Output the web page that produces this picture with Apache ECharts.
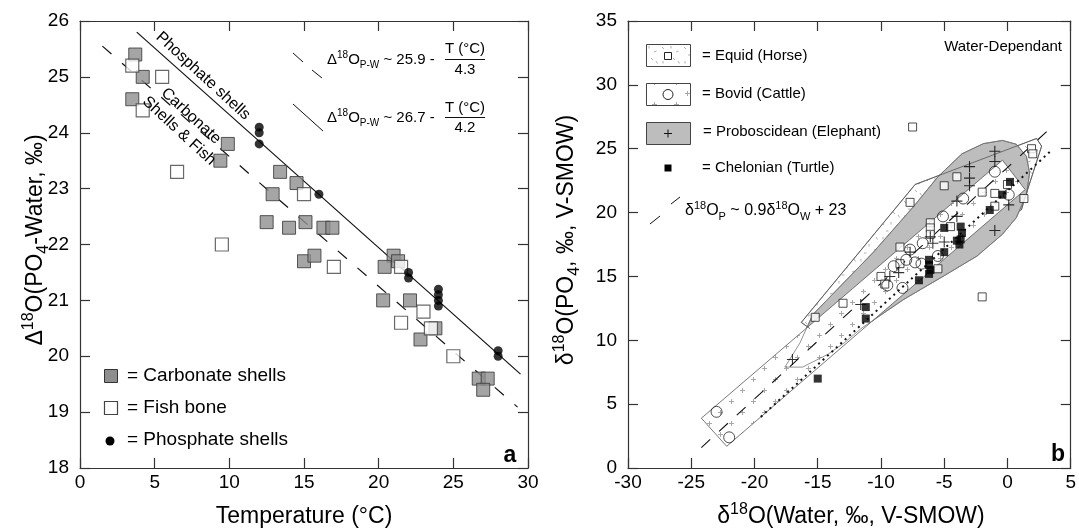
<!DOCTYPE html>
<html><head><meta charset="utf-8">
<script src="https://cdn.jsdelivr.net/npm/echarts@6/dist/echarts.min.js"></script>
<style>html,body{margin:0;padding:0;background:#fff}#c{width:1079px;height:529px}</style>
</head><body><div id="c"></div>
<script>
// ===== Panel a : Temperature (°C) vs Δ18O(PO4-Water) =====
const carbonateShells = [[3.7,25.4],[4.2,25.0],[3.5,24.6],[9.9,23.8],[9.4,23.5],[13.4,23.3],[14.5,23.1],[12.9,22.9],[12.5,22.4],[14.0,22.3],[15.1,22.4],[16.3,22.3],[16.9,22.3],[15.0,21.7],[15.7,21.8],[21.0,21.8],[20.4,21.6],[21.3,21.7],[20.3,21.0],[22.1,21.0],[22.8,20.3],[23.8,20.5],[26.7,19.6],[27.3,19.6],[27.0,19.4]];
const fishBone = [[3.5,25.2],[5.5,25.0],[4.2,24.4],[6.5,23.3],[15.0,22.9],[9.5,22.0],[17.0,21.6],[21.5,21.6],[23.0,20.8],[21.5,20.6],[23.5,20.5],[25.0,20.0]];
const phosphateShells = [[12,24.1],[12,24.0],[12,23.8],[16,22.9],[22,21.5],[22,21.4],[24,21.2],[24,21.1],[24,21.0],[24,20.9],[28,20.1],[28,20.0]];
const phosphateShellLine = [[3.8,25.8],[29.5,19.68]];
const carbonateFishLine = [[1.5,25.55],[29.3,19.09]];

// ===== Panel b : δ18O(Water) vs δ18O(PO4) =====
const equid = [[-7.5,26.7],[-7.7,20.8],[-5.0,22.1],[-4.0,22.8],[-2.0,21.6],[-1.0,21.5],[-1.0,20.5],[0.0,22.2],[1.9,25.0],[2.0,24.6],[1.3,21.1],[-2.0,13.4],[-6.1,19.2],[-6.1,18.8],[-6.1,18.3],[-8.5,17.3],[-8.5,16.0],[-10.0,15.0],[-9.7,14.4],[-13.0,12.9],[-15.2,11.8],[-4.5,18.9],[-5.5,15.6]];
const bovid = [[-1.0,23.2],[-3.5,21.1],[-5.1,19.7],[-6.7,17.6],[-7.7,17.1],[-8.0,16.3],[-9.0,15.8],[-7.3,16.1],[-6.8,16.0],[-9.5,14.3],[-8.3,14.1],[0.1,21.4],[-5.5,16.6],[-23.0,4.4],[-22.0,2.4]];
const proboscidean = [[-1.0,24.8],[-1.0,24.0],[-3.0,23.6],[-3.0,22.7],[-3.0,22.1],[-4.0,20.9],[-4.0,19.7],[-1.0,18.6],[0.1,20.6],[-5.9,17.6],[-5.0,17.7],[-7.7,16.9],[-8.6,15.3],[-9.3,15.0],[-11.6,12.8],[-6.1,18.1],[-17.0,8.5]];
const chelonian = [[0.2,22.4],[-0.4,21.4],[-1.4,20.2],[-5.0,18.8],[-3.7,18.9],[-3.6,18.4],[-3.7,17.9],[-3.8,17.5],[-4.0,17.8],[-5.0,16.9],[-6.2,16.3],[-6.2,15.9],[-6.1,15.5],[-6.2,15.2],[-7.0,14.7],[-11.2,12.6],[-11.2,11.7],[-15.0,7.0]];
const equidEnvelope = [[-15.6,10.9],[-16.3,11.4],[-7.3,22.2],[2.3,25.8],[2.7,25.2],[1.3,20.9],[1.1,20.2]];
const bovidEnvelope = [[-24.2,3.9],[-0.4,24.1],[1.4,21.8],[-22.2,1.7]];
const proboscideanEnvelope = [[-17.6,7.9],[-16.4,9.8],[-15.4,12.0],[-10.6,16.9],[-7.4,20.5],[-5.5,22.8],[-3.6,24.6],[-1.9,25.4],[-0.4,25.65],[0.7,25.35],[1.5,24.4],[1.75,23.1],[1.5,21.4],[0.7,19.6],[-0.4,18.3],[-2.4,16.6],[-5.1,15.0],[-8.2,13.2],[-11.6,10.9],[-12.9,9.8],[-14.2,8.9],[-16.2,7.9]];
const waterLine = [[-24.2,1.6],[3.5,26.7]];
const dottedLine = [[-19.5,4.0],[3.4,24.8]];

const FONT = "'Liberation Sans', Arial, Helvetica, sans-serif";

function patternCanvas(kind){
  const c = document.createElement('canvas'); c.width = 22; c.height = 22;
  const g = c.getContext('2d');
  g.fillStyle = '#fff'; g.fillRect(0,0,22,22);
  g.strokeStyle = kind === 'plus' ? '#a8a8a8' : '#b0b0b0'; g.lineWidth = 1;
  if (kind === 'plus') {
    [[5.5,5.5],[16.5,16.5]].forEach(function(p){
      g.beginPath(); g.moveTo(p[0]-2.5,p[1]); g.lineTo(p[0]+2.5,p[1]);
      g.moveTo(p[0],p[1]-2.5); g.lineTo(p[0],p[1]+2.5); g.stroke();
    });
  } else {
    [[2,3,4,5],[11,2,11,4.5],[16,8,18.5,7],[6,11,8.5,11],[13,14,15,16],[3,17,3,19.5],[18,17,19.5,19.5]].forEach(function(s){
      g.beginPath(); g.moveTo(s[0],s[1]); g.lineTo(s[2],s[3]); g.stroke();
    });
  }
  return c;
}
const plusPat = {image: patternCanvas('plus'), repeat: 'repeat'};
const equidPat = {image: patternCanvas('dash'), repeat: 'repeat'};

function polySeries(points, style, z, closed){
  return {
    type: 'custom', xAxisIndex: 2, yAxisIndex: 2, z: z, silent: true,
    data: [[points[0][0], points[0][1]]],
    renderItem: function(params, api){
      const pts = points.map(function(p){ return api.coord(p); });
      return {type: closed ? 'polygon' : 'polyline', shape: {points: pts}, style: style};
    }
  };
}

function richFor(S){
  return {
    t: {fontSize: S, fontFamily: FONT, fill: '#000', lineHeight: Math.round(S*1.35)},
    sup: {fontSize: Math.round(S*0.68), fontFamily: FONT, fill: '#000', verticalAlign: 'top'},
    sub: {fontSize: Math.round(S*0.68), fontFamily: FONT, fill: '#000', verticalAlign: 'bottom', lineHeight: Math.round(S*0.95)}
  };
}
function txt(x, y, text, size, opt){
  opt = opt || {};
  const style = {text: text, font: (opt.bold ? 'bold ' : '') + size + 'px ' + FONT, fill: '#000',
    textAlign: opt.align || 'left', textVerticalAlign: 'middle'};
  if (opt.rich) style.rich = richFor(size);
  return {type: 'text', x: x, y: y, rotation: opt.rotation || 0, silent: true, z: 100, style: style};
}
function seg(x1,y1,x2,y2,w,dash){
  return {type:'line', silent:true, z:102, shape:{x1:x1,y1:y1,x2:x2,y2:y2},
    style:{stroke:'#111', lineWidth:w||1, lineDash: dash || null}};
}

const axisCol = '#333';
function xAx(grid, min, max, pos){
  return {gridIndex: grid, type: 'value', min: min, max: max, interval: 5, position: pos,
    axisLine: {show: true, onZero: false, lineStyle: {color: axisCol, width: 1.2}},
    axisTick: {show: true, inside: true, length: 10, lineStyle: {color: axisCol, width: 1.2}},
    axisLabel: {show: pos === 'bottom', color: '#000', fontSize: 19, fontFamily: FONT, margin: 5},
    splitLine: {show: false}};
}
function yAx(grid, min, max, interval, pos){
  return {gridIndex: grid, type: 'value', min: min, max: max, interval: interval, position: pos,
    axisLine: {show: true, onZero: false, lineStyle: {color: axisCol, width: 1.2}},
    axisTick: {show: true, inside: true, length: 10, lineStyle: {color: axisCol, width: 1.2}},
    axisLabel: {show: pos === 'left', color: '#000', fontSize: 19, fontFamily: FONT, margin: 11},
    splitLine: {show: false}};
}

const plusSymbol = 'path://M4.5,0H5.5V4.5H10V5.5H5.5V10H4.5V5.5H0V4.5H4.5Z';

const option = {
  animation: false,
  backgroundColor: '#fff',
  grid: [
    {left: 80, top: 21, width: 448, height: 447},
    {left: 628, top: 21, width: 447, height: 447}
  ],
  xAxis: [xAx(0,0,30,'bottom'), xAx(0,0,30,'top'), xAx(1,-30,5,'bottom'), xAx(1,-30,5,'top')],
  yAxis: [yAx(0,18,26,1,'left'), yAx(0,18,26,1,'right'), yAx(1,0,35,5,'left'), yAx(1,0,35,5,'right')],
  series: [
    // panel a
    {type:'line', xAxisIndex:0, yAxisIndex:0, data: phosphateShellLine, symbol:'none', silent:true, z:2,
      lineStyle:{color:'#111', width:1.2}},
    {type:'line', xAxisIndex:0, yAxisIndex:0, data: carbonateFishLine, symbol:'none', silent:true, z:2,
      lineStyle:{color:'#111', width:1.2, type:[12,14]}},
    {type:'scatter', xAxisIndex:0, yAxisIndex:0, data: carbonateShells, symbol:'rect', symbolSize:13, silent:true, z:3,
      itemStyle:{color:'#8e8e8e', borderColor:'#333', borderWidth:1}},
    {type:'scatter', xAxisIndex:0, yAxisIndex:0, data: fishBone, symbol:'rect', symbolSize:13, silent:true, z:4,
      itemStyle:{color:'#fff', borderColor:'#444', borderWidth:1.2}},
    {type:'scatter', xAxisIndex:0, yAxisIndex:0, data: phosphateShells, symbol:'circle', symbolSize:9, silent:true, z:5,
      itemStyle:{color:'#000'}},
    // panel b envelopes
    polySeries(equidEnvelope, {fill: equidPat, stroke: '#666', lineWidth: 0.8}, 1, true),
    polySeries(proboscideanEnvelope, {fill: '#bdbdbd', stroke: '#666', lineWidth: 0.8}, 2, true),
    polySeries(bovidEnvelope, {fill: plusPat, stroke: '#555', lineWidth: 0.8}, 3, true),
    polySeries(proboscideanEnvelope, {fill: 'none', stroke: '#777', lineWidth: 0.8}, 4, true),
    polySeries(equidEnvelope, {fill: 'none', stroke: '#555', lineWidth: 0.8}, 4, false),
    {type:'line', xAxisIndex:2, yAxisIndex:2, data: waterLine, symbol:'none', silent:true, z:5,
      lineStyle:{color:'#111', width:1.1, type:[12,12]}},
    {type:'line', xAxisIndex:2, yAxisIndex:2, data: dottedLine, symbol:'none', silent:true, z:5,
      lineStyle:{color:'#111', width:2, type:[2,4]}},
    {type:'scatter', xAxisIndex:2, yAxisIndex:2, data: equid, symbol:'rect', symbolSize:8, silent:true, z:6,
      itemStyle:{color:'#fff', borderColor:'#222', borderWidth:1}},
    {type:'scatter', xAxisIndex:2, yAxisIndex:2, data: bovid, symbol:'circle', symbolSize:11, silent:true, z:7,
      itemStyle:{color:'rgba(255,255,255,0)', borderColor:'#222', borderWidth:1}},
    {type:'scatter', xAxisIndex:2, yAxisIndex:2, data: proboscidean, symbol: plusSymbol, symbolSize:11, silent:true, z:8,
      itemStyle:{color:'#000'}},
    {type:'scatter', xAxisIndex:2, yAxisIndex:2, data: chelonian, symbol:'rect', symbolSize:8, silent:true, z:9,
      itemStyle:{color:'#000'}}
  ],
  graphic: {elements: [
    // axis titles
    txt(36, 240, '{t|Δ}{sup|18}{t|O(PO}{sub|4}{t|-Water, ‰)}', 23, {rich:true, align:'center', rotation: Math.PI/2}),
    txt(304, 517, 'Temperature (°C)', 23, {align:'center'}),
    txt(567, 240, '{t|δ}{sup|18}{t|O(PO}{sub|4}{t|, ‰, V-SMOW)}', 23, {rich:true, align:'center', rotation: Math.PI/2}),
    txt(851, 517, '{t|δ}{sup|18}{t|O(Water, ‰, V-SMOW)}', 23, {rich:true, align:'center'}),
    // panel letters
    txt(510, 456, 'a', 23, {bold:true, align:'center'}),
    txt(1058, 455, 'b', 23, {bold:true, align:'center'}),
    // panel a line labels
    txt(203, 76, 'Phosphate shells', 16, {align:'center', rotation: -0.745}),
    txt(191, 116, 'Carbonate', 16, {align:'center', rotation: -0.745}),
    txt(179, 131, 'Shells & Fish', 16, {align:'center', rotation: -0.745}),
    // panel a equations
    seg(293,53,303,62,1), seg(312,70,322,78,1),
    txt(327, 60, '{t|Δ}{sup|18}{t|O}{sub|P-W}{t| ~ 25.9 - }', 15, {rich:true}),
    txt(465, 49, 'T (°C)', 15, {align:'center'}),
    seg(445,59.5,485,59.5,1),
    txt(465, 70, '4.3', 15, {align:'center'}),
    seg(293,104,323,131,1),
    txt(327, 118, '{t|Δ}{sup|18}{t|O}{sub|P-W}{t| ~ 26.7 - }', 15, {rich:true}),
    txt(465, 108, 'T (°C)', 15, {align:'center'}),
    seg(445,117.5,485,117.5,1),
    txt(465, 128, '4.2', 15, {align:'center'}),
    // panel a legend
    {type:'rect', silent:true, z:100, shape:{x:104.5,y:369.5,width:13,height:13}, style:{fill:'#8e8e8e', stroke:'#333', lineWidth:1}},
    {type:'rect', silent:true, z:100, shape:{x:104.5,y:401.5,width:13,height:13}, style:{fill:'#fff', stroke:'#444', lineWidth:1.2}},
    {type:'circle', silent:true, z:100, shape:{cx:110,cy:441,r:4.5}, style:{fill:'#000'}},
    txt(127, 376, '= Carbonate shells', 19),
    txt(127, 408, '= Fish bone', 19),
    txt(127, 440, '= Phosphate shells', 19),
    // panel b legend
    {type:'rect', silent:true, z:100, shape:{x:646.5,y:44.5,width:44,height:22}, style:{fill:equidPat, stroke:'#444', lineWidth:1}},
    {type:'rect', silent:true, z:101, shape:{x:664.5,y:52.5,width:7,height:7}, style:{fill:'#fff', stroke:'#222', lineWidth:1}},
    {type:'rect', silent:true, z:100, shape:{x:646.5,y:83.5,width:44,height:22}, style:{fill:plusPat, stroke:'#444', lineWidth:1}},
    {type:'circle', silent:true, z:101, shape:{cx:668,cy:94.5,r:5}, style:{fill:'#fff', stroke:'#222', lineWidth:1}},
    {type:'rect', silent:true, z:100, shape:{x:646.5,y:122.5,width:44,height:22}, style:{fill:'#bdbdbd', stroke:'#444', lineWidth:1}},
    seg(664,133.5,672,133.5,1), seg(668,129.5,668,137.5,1),
    {type:'rect', silent:true, z:100, shape:{x:664.5,y:164.5,width:7,height:7}, style:{fill:'#000'}},
    txt(702, 56, '= Equid (Horse)', 15),
    txt(702, 94, '= Bovid (Cattle)', 15),
    txt(703, 132, '= Proboscidean (Elephant)', 15),
    txt(702, 168, '= Chelonian (Turtle)', 15),
    txt(1062, 47, 'Water-Dependant', 15, {align:'right'}),
    seg(650,224,660,216,1), seg(671,204,680,197,1),
    txt(685, 211, '{t|δ}{sup|18}{t|O}{sub|P}{t| ~ 0.9δ}{sup|18}{t|O}{sub|W}{t| + 23}', 16, {rich:true})
  ]}
};
const chart = echarts.init(document.getElementById('c'), null, {renderer: 'canvas'});
chart.setOption(option);
</script>
</body></html>
